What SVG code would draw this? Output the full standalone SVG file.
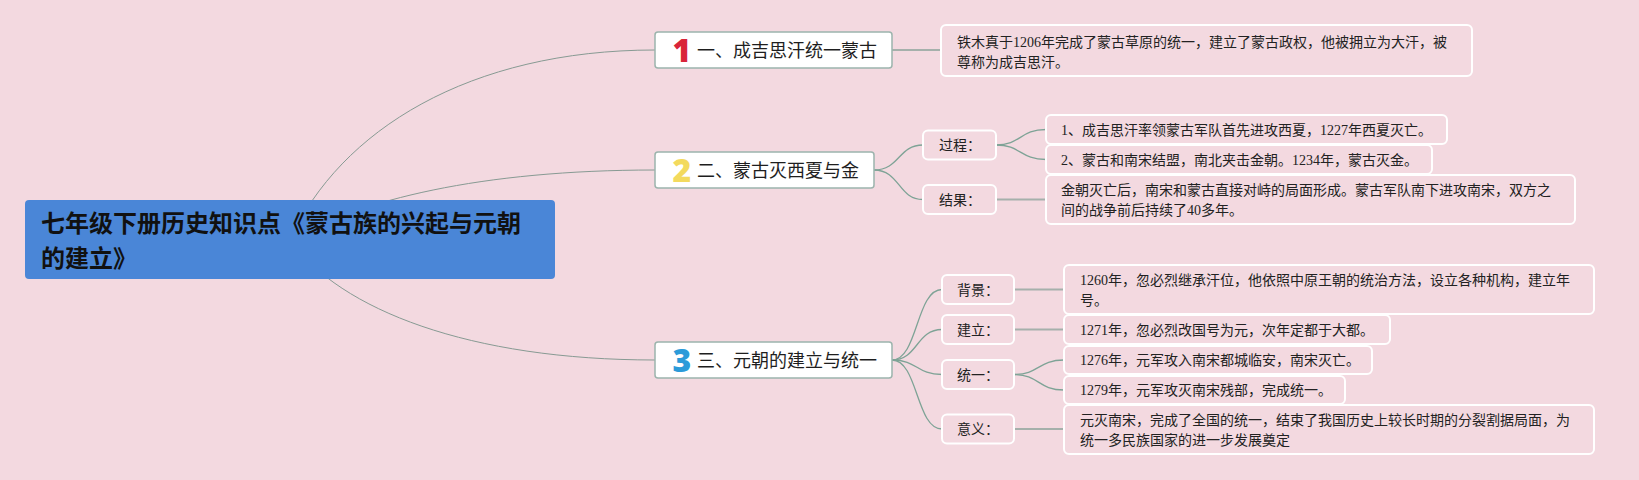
<svg xmlns="http://www.w3.org/2000/svg" width="1639" height="480" viewBox="0 0 1639 480">
<style>
.bg{fill:#f3d9e0}
.root rect{fill:#4a86d7}
.root text{font-family:"Noto Sans CJK SC","Noto Sans",sans-serif;font-size:24px;font-weight:bold;fill:#111}
.node rect{fill:#ffffff;stroke:#9cb4ad;stroke-width:1.5}
.node .t{font-family:"Noto Sans CJK SC","Noto Sans",sans-serif;font-size:18px;fill:#1e1e1e}
.num{font-family:"Noto Sans","DejaVu Sans",sans-serif;font-size:32px;font-weight:900;text-anchor:middle}
.lab rect,.det rect{fill:#f3d9e0;stroke:#ffffff;stroke-width:2}
.lab text{font-family:"Noto Sans CJK SC","Noto Sans",sans-serif;font-size:14px;fill:#222}
.det text{font-family:"Liberation Serif","Noto Sans CJK SC",serif;font-size:14px;fill:#222}
.c0{fill:none;stroke:#879a93;stroke-width:1}
.c1{fill:none;stroke:#7ea396;stroke-width:1.3}
.c2{fill:none;stroke:#a5b0ab;stroke-width:1.8}
</style>
<rect class="bg" x="0" y="0" width="1639" height="480"/>
<g id="connectors">
<path class="c0" d="M290,240 C340,130 470,50 655,50"/>
<path class="c0" d="M290,240 C360,200 480,170 655,170"/>
<path class="c0" d="M290,240 C340,310 470,360 655,360"/>
<path class="c2" d="M892,50 L941,50"/>
<path class="c1" d="M874,170 C900,170 898,145 923,145"/>
<path class="c1" d="M874,170 C900,170 898,199.5 923,199.5"/>
<path class="c1" d="M996,145 C1021,145 1020,129.5 1046,129.5"/>
<path class="c1" d="M996,145 C1021,145 1020,159.5 1046,159.5"/>
<path class="c2" d="M996,199.5 L1046,199.5"/>
<path class="c1" d="M892,360 C918,360 916,289.5 942,289.5"/>
<path class="c1" d="M892,360 C918,360 916,329.5 942,329.5"/>
<path class="c1" d="M892,360 C918,360 916,374.5 942,374.5"/>
<path class="c1" d="M892,360 C918,360 916,429 942,429"/>
<path class="c2" d="M1014,289.5 L1064,289.5"/>
<path class="c2" d="M1014,329.5 L1064,329.5"/>
<path class="c1" d="M1014,374.5 C1039,374.5 1038,360 1064,360"/>
<path class="c1" d="M1014,374.5 C1039,374.5 1038,390 1064,390"/>
<path class="c2" d="M1014,429 L1064,429"/>
</g>
<g id="root" class="root">
<rect x="25" y="200" width="530" height="79" rx="4"/>
<text x="41" y="232">七年级下册历史知识点《蒙古族的兴起与元朝</text>
<text x="41" y="267">的建立》</text>
</g>
<g id="n1" class="node">
<rect x="655" y="32" width="237" height="36" rx="3"/>
<text class="num" x="682" y="62" fill="#d9253a">1</text>
<text class="t" x="697" y="57">一、成吉思汗统一蒙古</text>
</g>
<g id="n2" class="node">
<rect x="655" y="152" width="219" height="36" rx="3"/>
<text class="num" x="682" y="182" fill="#f3da5e">2</text>
<text class="t" x="697" y="177">二、蒙古灭西夏与金</text>
</g>
<g id="n3" class="node">
<rect x="655" y="342" width="237" height="36" rx="3"/>
<text class="num" x="682" y="372" fill="#2b9bd9">3</text>
<text class="t" x="697" y="367">三、元朝的建立与统一</text>
</g>
<g id="d1" class="det">
<rect x="941" y="25" width="531" height="51" rx="5"/>
<text x="957" y="47">铁木真于1206年完成了蒙古草原的统一，建立了蒙古政权，他被拥立为大汗，被</text>
<text x="957" y="67">尊称为成吉思汗。</text>
</g>
<g id="l-guocheng" class="lab">
<rect x="923" y="130.5" width="73" height="29" rx="5"/>
<text x="939" y="150">过程：</text>
</g>
<g id="l-jieguo" class="lab">
<rect x="923" y="185" width="73" height="29" rx="5"/>
<text x="939" y="204.5">结果：</text>
</g>
<g id="d2a" class="det">
<rect x="1046" y="115" width="401" height="29" rx="5"/>
<text x="1061" y="134.5">1、成吉思汗率领蒙古军队首先进攻西夏，1227年西夏灭亡。</text>
</g>
<g id="d2b" class="det">
<rect x="1046" y="145" width="386" height="29" rx="5"/>
<text x="1061" y="164.5">2、蒙古和南宋结盟，南北夹击金朝。1234年，蒙古灭金。</text>
</g>
<g id="d2c" class="det">
<rect x="1046" y="175" width="529" height="49" rx="5"/>
<text x="1061" y="195">金朝灭亡后，南宋和蒙古直接对峙的局面形成。蒙古军队南下进攻南宋，双方之</text>
<text x="1061" y="215">间的战争前后持续了40多年。</text>
</g>
<g id="l-beijing" class="lab">
<rect x="942" y="275" width="72" height="29" rx="5"/>
<text x="957" y="294.5">背景：</text>
</g>
<g id="l-jianli" class="lab">
<rect x="942" y="315" width="72" height="29" rx="5"/>
<text x="957" y="334.5">建立：</text>
</g>
<g id="l-tongyi" class="lab">
<rect x="942" y="360" width="72" height="29" rx="5"/>
<text x="957" y="379.5">统一：</text>
</g>
<g id="l-yiyi" class="lab">
<rect x="942" y="414.5" width="72" height="29" rx="5"/>
<text x="957" y="434">意义：</text>
</g>
<g id="d3a" class="det">
<rect x="1064" y="265" width="530" height="49" rx="5"/>
<text x="1080" y="285">1260年，忽必烈继承汗位，他依照中原王朝的统治方法，设立各种机构，建立年</text>
<text x="1080" y="305">号。</text>
</g>
<g id="d3b" class="det">
<rect x="1064" y="315" width="326" height="29" rx="5"/>
<text x="1080" y="334.5">1271年，忽必烈改国号为元，次年定都于大都。</text>
</g>
<g id="d3c" class="det">
<rect x="1064" y="346" width="308" height="28" rx="5"/>
<text x="1080" y="365">1276年，元军攻入南宋都城临安，南宋灭亡。</text>
</g>
<g id="d3d" class="det">
<rect x="1064" y="376" width="281" height="28" rx="5"/>
<text x="1080" y="395">1279年，元军攻灭南宋残部，完成统一。</text>
</g>
<g id="d3e" class="det">
<rect x="1064" y="405" width="530" height="49" rx="5"/>
<text x="1080" y="425">元灭南宋，完成了全国的统一，结束了我国历史上较长时期的分裂割据局面，为</text>
<text x="1080" y="445">统一多民族国家的进一步发展奠定</text>
</g>
</svg>
